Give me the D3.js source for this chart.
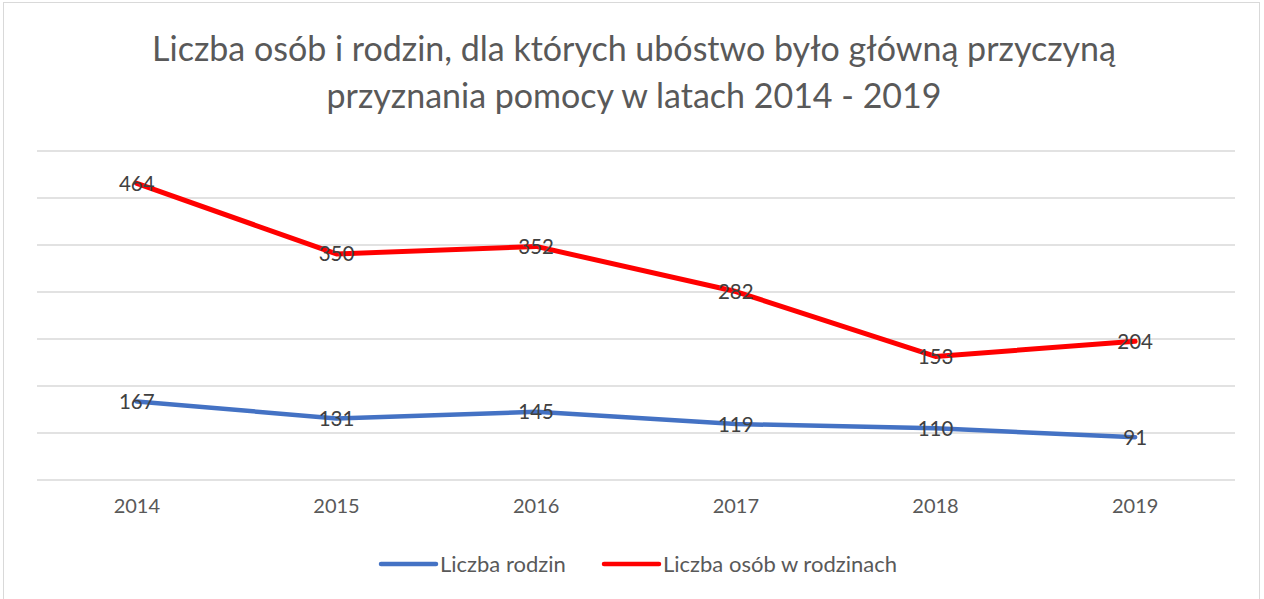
<!DOCTYPE html>
<html>
<head>
<meta charset="utf-8">
<script src="https://cdn.jsdelivr.net/npm/d3@7"></script>
<style>
  html, body { margin: 0; padding: 0; background: #fff; }
  svg { display: block; }
  text { font-family: Lato, "Open Sans", sans-serif; }
</style>
</head>
<body>
<svg id="chart" width="1264" height="599"></svg>
<script>
// Chart data
const years = ["2014", "2015", "2016", "2017", "2018", "2019"];
const families = [167, 131, 145, 119, 110, 91];          // Liczba rodzin
const persons = [464, 350, 352, 282, 153, 204];           // Liczba osób w rodzinach
const seriesNames = ["Liczba rodzin", "Liczba osób w rodzinach"];
const seriesColors = ["#4472C4", "#FF0000"];
const yTicks = [0, 100, 200, 300, 400, 500, 600, 700];
const titleLines = [
  "Liczba osób i rodzin, dla których ubóstwo było główną przyczyną",
  "przyznania pomocy w latach 2014 - 2019"
];

const svg = d3.select("#chart");
const plot = { left: 37, right: 1235, top: 151, bottom: 480 };

// Outer frame
svg.append("rect")
  .attr("x", 3.5).attr("y", 2.5)
  .attr("width", 1256).attr("height", 600)
  .attr("fill", "#fff").attr("stroke", "#D9D9D9").attr("stroke-width", 1);

// Title
svg.append("g").selectAll("text")
  .data(titleLines)
  .join("text")
  .attr("x", 634)
  .attr("y", (d, i) => 61 + i * 47)
  .attr("text-anchor", "middle")
  .attr("fill", "#595959")
  .attr("font-size", 34)
  .attr("font-weight", 400)
  .text(d => d);

// Scales
const x = d3.scaleBand().domain(years).range([plot.left, plot.right]);
const xc = d => x(d) + x.bandwidth() / 2;
const y = d3.scaleLinear().domain([0, 700]).range([plot.bottom, plot.top]);

// Gridlines
svg.append("g")
  .selectAll("line")
  .data(yTicks)
  .join("line")
  .attr("x1", plot.left).attr("x2", plot.right)
  .attr("y1", d => y(d)).attr("y2", d => y(d))
  .attr("stroke", "#D9D9D9").attr("stroke-width", 1.3);

// X axis labels
const xAxis = svg.append("g")
  .attr("transform", `translate(0,${plot.bottom})`)
  .call(d3.axisBottom(x).tickSize(0).tickPadding(19));
xAxis.select(".domain").remove();
xAxis.selectAll("text")
  .attr("fill", "#595959")
  .attr("font-size", 20)
  .attr("font-family", "Lato, 'Open Sans', sans-serif");

// Stacked series
const table = years.map((yr, i) => ({ year: yr, families: families[i], persons: persons[i] }));
const stacked = d3.stack().keys(["families", "persons"])(table);

const line = d3.line()
  .x(d => xc(d.data.year))
  .y(d => y(d[1]));

svg.append("g")
  .selectAll("path")
  .data(stacked)
  .join("path")
  .attr("d", line)
  .attr("fill", "none")
  .attr("stroke", (d, i) => seriesColors[i])
  .attr("stroke-width", (d, i) => i === 1 ? 5 : 4.5)
  .attr("stroke-linejoin", "round")
  .attr("stroke-linecap", "round");

// Data labels, centred on the points
stacked.forEach(s => {
  svg.append("g")
    .selectAll("text")
    .data(s)
    .join("text")
    .attr("x", d => xc(d.data.year))
    .attr("y", d => y(d[1]) + 7.5)
    .attr("text-anchor", "middle")
    .attr("fill", "#404040")
    .attr("font-size", 20.5)
    .text(d => d.data[s.key]);
});

// Legend
const legendItems = [
  { name: seriesNames[0], color: seriesColors[0], x: 381 },
  { name: seriesNames[1], color: seriesColors[1], x: 604 }
];
const lg = svg.append("g").selectAll("g")
  .data(legendItems)
  .join("g")
  .attr("transform", d => `translate(${d.x},564)`);
lg.append("line")
  .attr("x1", 0).attr("x2", 55)
  .attr("stroke", d => d.color)
  .attr("stroke-width", 4.5)
  .attr("stroke-linecap", "round");
lg.append("text")
  .attr("x", 59)
  .attr("y", 7.5)
  .attr("fill", "#595959")
  .attr("font-size", 22)
  .text(d => d.name);
</script>
</body>
</html>
